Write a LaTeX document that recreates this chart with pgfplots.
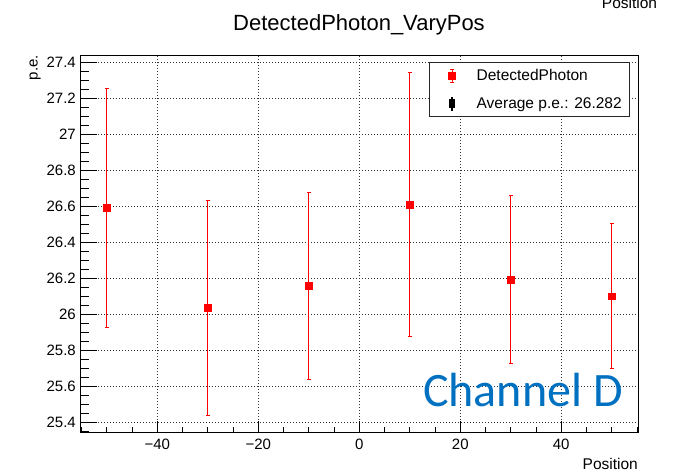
\documentclass[border=0pt]{standalone}
\usepackage{fontspec}
\setmainfont{Liberation Sans}
\newfontfamily\calibri{Carlito}
\usepackage{pgfplots}
\pgfplotsset{compat=1.18}
\usepackage{pgfplotstable}
\definecolor{chanblue}{HTML}{0070C0}
\pgfplotstableread{
x y e
-50 26.593 0.662
-30 26.037 0.596
-10 26.159 0.518
10 26.611 0.734
30 26.193 0.467
50 26.102 0.402
}\dataD
\begin{document}
\begin{tikzpicture}[x=1pt,y=1pt]
\useasboundingbox (0,0) rectangle (684,472);
\clip (0,0) rectangle (684,472);
\begin{axis}[
  at={(80pt,40pt)}, anchor=south west,
  scale only axis, width=558pt, height=377pt,
  xmin=-55.3, xmax=55.2, ymin=25.347, ymax=27.442,
  xtick={-40,-20,0,20,40},
  xticklabels={{−40},{−20},0,20,40},
  ytick={25.4,25.6,25.8,26,26.2,26.4,26.6,26.8,27,27.2,27.4},
  yticklabels={25.4,25.6,25.8,26,26.2,26.4,26.6,26.8,27,27.2,27.4},
  minor xtick={-55,-50,...,55},
  minor ytick={25.35,25.4,...,27.45},
  scaled y ticks=false,
  xtick pos=bottom, ytick pos=left,
  tick align=inside,
  xtick style={black, line width=0.8pt, /pgfplots/major tick length=11pt, /pgfplots/minor tick length=5.5pt},
  ytick style={black, line width=0.8pt, /pgfplots/major tick length=17pt, /pgfplots/minor tick length=8.5pt},
  minor tick style={black, line width=0.8pt},
  grid=major,
  major grid style={black!80, line width=0.7pt, dash pattern=on 1pt off 2pt},
  axis line style={black, line width=1pt},
  tick label style={font=\fontsize{15}{18}\selectfont, inner sep=0pt},
  xticklabel style={yshift=-7pt},
  yticklabel style={xshift=-4pt},
  legend style={at={(0.986,0.981)}, anchor=north east, draw=black!85, line width=0.9pt,
    fill=white, font=\fontsize{15.5}{18}\selectfont, inner xsep=6pt, inner ysep=5pt,
    row sep=11pt, nodes={inner sep=2pt}},
  legend cell align=left,
]
\addplot[only marks, mark=square*, mark size=3.3pt, red, mark options={red},
  legend image code/.code={
    \draw[red,line width=0.8pt] (16pt,-6.5pt) -- (16pt,6.5pt);
    \draw[red,line width=0.8pt] (14pt,-6.5pt) -- (18pt,-6.5pt);
    \draw[red,line width=0.8pt] (14pt,6.5pt) -- (18pt,6.5pt);
    \fill[red] (12.7pt,-3.3pt) rectangle (19.3pt,3.3pt);
    \path (0pt,0pt) (38pt,0pt);
  },
  error bars/.cd, y dir=both, y explicit,
  error bar style={red, line width=0.8pt},
  error mark options={rotate=90, mark size=1.8pt, red, line width=0.8pt}]
  table[x=x, y=y, y error=e] {\dataD};
\addlegendentry{DetectedPhoton}
\addlegendimage{legend image code/.code={
    \draw[black,line width=2pt] (16pt,-7pt) -- (16pt,7pt);
    \fill[black] (13.5pt,-4pt) rectangle (18.5pt,4pt);
    \path (0pt,0pt) (38pt,0pt);
  }}
\addlegendentry{Average p.e.: 26.282}
\end{axis}
\node[anchor=base, font=\fontsize{22}{26}\selectfont] at (359,441.3) {DetectedPhoton\_VaryPos};
\node[anchor=base west, font=\fontsize{15.5}{18}\selectfont, inner sep=0pt] at (601.7,463) {Position};
\node[anchor=base east, font=\fontsize{15.5}{18}\selectfont, inner sep=0pt] at (638,2.7) {Position};
\node[anchor=base east, rotate=90, font=\fontsize{15}{18}\selectfont, inner sep=0pt] at (37.5,417) {p.e.};
\node[anchor=base west, text=chanblue, font=\calibri\fontsize{48}{56}\selectfont, inner sep=0pt] at (423,65.3) {Channel D};
\end{tikzpicture}
\end{document}
